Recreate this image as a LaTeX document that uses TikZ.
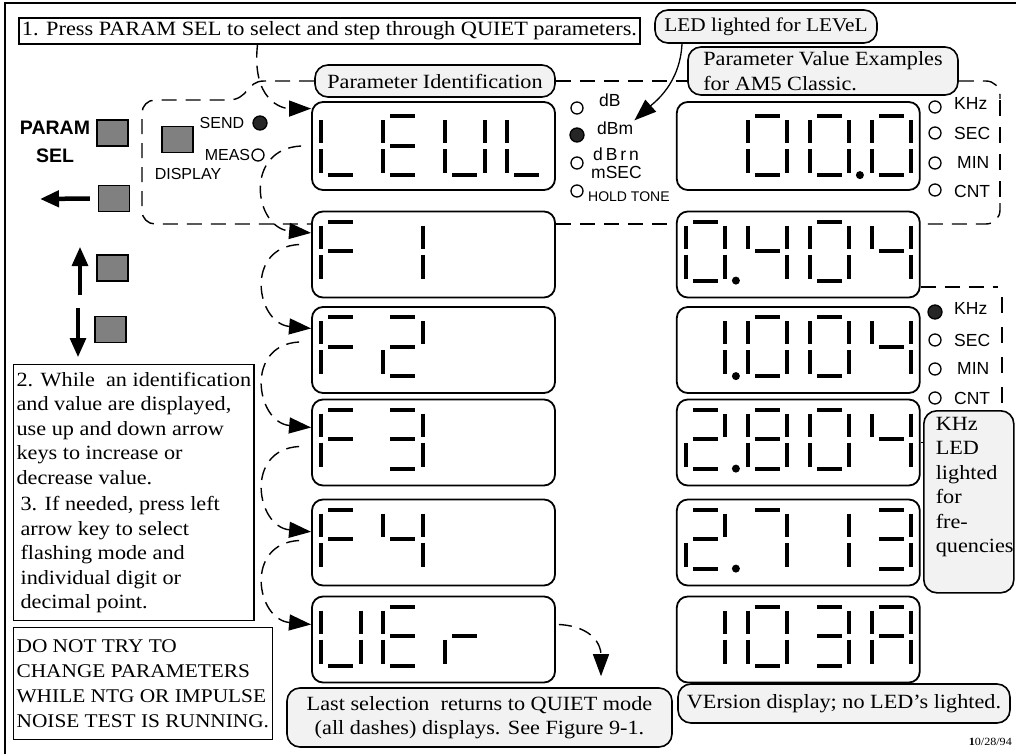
\documentclass[tikz,border=0pt]{standalone}
\usepackage{fontspec}
\setmainfont{Liberation Serif}[FakeStretch=1.1]
\setsansfont{Liberation Sans}
\usetikzlibrary{positioning,arrows.meta,calc}

% seven segment bars, origin at the left bar / top bar
\newcommand{\sega}{(7,0) -- (32,0)}
\newcommand{\segb}{(39.5,4) -- (39.5,27)}
\newcommand{\segc}{(39.5,33) -- (39.5,57)}
\newcommand{\segd}{(7,59) -- (32,59)}
\newcommand{\sege}{(0,33) -- (0,57)}
\newcommand{\segf}{(0,4) -- (0,27)}
\newcommand{\segg}{(7,29.5) -- (32,29.5)}

% characters as lists of bars
\newcommand{\dgzero}{a,b,c,d,e,f}
\newcommand{\dgone}{b,c}
\newcommand{\dgtwo}{a,b,g,e,d}
\newcommand{\dgthree}{a,b,g,c,d}
\newcommand{\dgfour}{f,g,b,c}
\newcommand{\dgseven}{a,b,c}
\newcommand{\dgeight}{a,b,c,d,e,f,g}
\newcommand{\dgA}{a,b,c,e,f,g}
\newcommand{\dgE}{a,f,g,e,d}
\newcommand{\dgF}{a,f,g,e}
\newcommand{\dgL}{f,e,d}
\newcommand{\dgU}{f,e,d,c,b}
\newcommand{\dgr}{e,g}

% \showdigit[top offset]{display}{cell}{bars}
\newcommand{\showdigit}[4][11]{%
  \edef\seglist{#4}%
  \begin{scope}[shift={($(#2.north west)+(10+62*#3,#1)$)}]
    \foreach \s in \seglist {\edef\segpath{\csname seg\s\endcsname}\draw[seg] \segpath;}
  \end{scope}}
\newcommand{\showpoint}[3][11]{%
  \fill ($(#2.north west)+(60+62*#3,#1+59)$) circle[radius=4pt];}

\begin{document}
\begin{tikzpicture}[x=1pt,y=-1pt,
    >={Triangle[length=22pt,width=16pt]},
    serif/.style={font=\fontsize{20.2}{24.5}\selectfont},
    plainbox/.style={draw,line width=1.2pt,serif,inner sep=3pt},
    notebox/.style={draw,line width=1.6pt,fill=black!5,rounded corners=13pt,serif,inner sep=3pt},
    display/.style={draw,line width=1.8pt,rounded corners=11pt,minimum width=243pt,minimum height=86pt,inner sep=0pt},
    seg/.style={line width=4pt},
    keybox/.style={draw,line width=1.2pt,fill=black!50,minimum width=31pt,minimum height=26pt,inner sep=0pt},
    led/.style={circle,draw,line width=1.3pt,minimum size=12pt,inner sep=0pt},
    ledon/.style={led,fill=black!85,minimum size=14pt},
    keylab/.style={font=\sffamily\fontsize{16}{17}\selectfont,inner sep=1pt},
    ledlab/.style={font=\sffamily\fontsize{17.5}{18}\selectfont,inner sep=1pt,anchor=west},
    groupline/.style={line width=1.4pt,dash pattern=on 15pt off 9pt},
    stepflow/.style={line width=1.4pt,dash pattern=on 13pt off 8pt,->},
    keyarrow/.style={-{Triangle[length=19pt,width=16pt]}}]

  \useasboundingbox (0,0) rectangle (1016,754);
  \draw[line width=2pt] (5,754) -- (5,3) -- (1016,3);

  % notes and callouts
  \node[plainbox,font=\fontsize{20.3}{24}\selectfont,minimum width=621pt,minimum height=26pt] (step1) at (329.5,31) {1. Press PARAM SEL to select and step through QUIET parameters.};
  \node[notebox,font=\fontsize{19.4}{24}\selectfont,minimum width=222pt,minimum height=33pt] (ledlevel) at (766,26.5) {LED lighted for LEVeL};
  \node[notebox,minimum width=240pt,minimum height=32pt] (pident) at (435,81) {Parameter Identification};
  \node[notebox,align=left,inner xsep=14pt,inner ysep=1pt,minimum width=270pt,minimum height=48pt] (pvalue) at (823,71) {Parameter Value Examples\\for AM5 Classic.};

  % identification displays
  \node[display,minimum height=88pt] (idlev) at (433.5,146) {};
  \node[display] (idf1) at (433.5,254.5) {};
  \node[display] (idf2) at (433.5,350) {};
  \node[display] (idf3) at (433.5,442.5) {};
  \node[display] (idf4) at (433.5,542.5) {};
  \node[display] (idver) at (433.5,639.5) {};

  % value displays
  \node[display,minimum height=88pt,right=120pt of idlev] (val100) {};
  \node[display,right=120pt of idf1] (val404) {};
  \node[display,right=120pt of idf2] (val1004) {};
  \node[display,right=120pt of idf3] (val2804) {};
  \node[display,right=120pt of idf4] (val2713) {};
  \node[display,right=120pt of idver] (valver) {};

  \showdigit[15]{idlev}{0}{\dgL}
  \showdigit[15]{idlev}{1}{\dgE}
  \showdigit[15]{idlev}{2}{\dgU}
  \showdigit[15]{idlev}{3}{\dgL}
  \showdigit{idf1}{0}{\dgF}
  \showdigit{idf1}{1}{\dgone}
  \showdigit{idf2}{0}{\dgF}
  \showdigit{idf2}{1}{\dgtwo}
  \showdigit{idf3}{0}{\dgF}
  \showdigit{idf3}{1}{\dgthree}
  \showdigit{idf4}{0}{\dgF}
  \showdigit{idf4}{1}{\dgfour}
  \showdigit{idver}{0}{\dgU}
  \showdigit{idver}{1}{\dgE}
  \showdigit{idver}{2}{\dgr}

  \showdigit[15]{val100}{1}{\dgzero}
  \showdigit[15]{val100}{2}{\dgzero}
  \showpoint[15]{val100}{2}
  \showdigit[15]{val100}{3}{\dgzero}
  \showdigit{val404}{0}{\dgzero}
  \showpoint{val404}{0}
  \showdigit{val404}{1}{\dgfour}
  \showdigit{val404}{2}{\dgzero}
  \showdigit{val404}{3}{\dgfour}
  \showdigit{val1004}{0}{\dgone}
  \showpoint{val1004}{0}
  \showdigit{val1004}{1}{\dgzero}
  \showdigit{val1004}{2}{\dgzero}
  \showdigit{val1004}{3}{\dgfour}
  \showdigit{val2804}{0}{\dgtwo}
  \showpoint{val2804}{0}
  \showdigit{val2804}{1}{\dgeight}
  \showdigit{val2804}{2}{\dgzero}
  \showdigit{val2804}{3}{\dgfour}
  \showdigit{val2713}{0}{\dgtwo}
  \showpoint{val2713}{0}
  \showdigit{val2713}{1}{\dgseven}
  \showdigit{val2713}{2}{\dgone}
  \showdigit{val2713}{3}{\dgthree}
  \showdigit{valver}{0}{\dgone}
  \showdigit{valver}{1}{\dgzero}
  \showdigit{valver}{2}{\dgthree}
  \showdigit{valver}{3}{\dgA}

  % unit LEDs beside the displays
  \node[led] (ldb) at (577,108) {};
  \node[ledon] (ldbm) at (577,135) {};
  \node[led] (ldbrn) at (577,163) {};
  \node[led] (lhold) at (577,191) {};
  \node[ledlab] (tdb) at (598,100) {dB};
  \node[ledlab] (tdbm) at (596,128) {dBm};
  \node[ledlab] (tdbrn) at (592,154) {d\,B\,r\,n};
  \node[ledlab] (tmsec) at (590,172) {mSEC};
  \node[ledlab,font=\sffamily\fontsize{14}{15}\selectfont] (thold) at (587,197) {HOLD TONE};

  \node[led] (lkhz) at (935,107) {};
  \node[led] (lsec) at (935,133) {};
  \node[led] (lmin) at (935,163) {};
  \node[led] (lcnt) at (935,190) {};
  \node[ledlab] (tkhz) at (953,103) {KHz};
  \node[ledlab] (tsec) at (953,133) {SEC};
  \node[ledlab] (tmin) at (956,162) {MIN};
  \node[ledlab] (tcnt) at (953,191) {CNT};

  \node[ledon] (lkhzb) at (935,312) {};
  \node[led] (lsecb) at (935,340) {};
  \node[led] (lminb) at (935,369) {};
  \node[led] (lcntb) at (935,398) {};
  \node[ledlab] (tkhzb) at (953,308) {KHz};
  \node[ledlab] (tsecb) at (953,340) {SEC};
  \node[ledlab] (tminb) at (956,368) {MIN};
  \node[ledlab] (tcntb) at (953,398) {CNT};

  % front panel keys
  \node[keybox] (kparam) at (112.5,133) {};
  \node[font=\sffamily\bfseries\fontsize{19.5}{28.5}\selectfont,align=center,inner sep=0pt] (tparam) at (55,142) {PARAM\\SEL};
  \node[keybox] (kdisp) at (177.5,139.5) {};
  \node[keylab] (tdisp) at (188,174) {DISPLAY};
  \node[ledon] (lsend) at (260,123) {};
  \node[keylab,left=7pt of lsend] (tsend) {SEND};
  \node[led] (lmeas) at (258,155) {};
  \node[keylab,left=0pt of lmeas] (tmeas) {MEAS};
  \node[keybox] (kleft) at (114,198.5) {};
  \node[keybox] (kup) at (112.5,268) {};
  \node[keybox] (kdown) at (110.5,329.5) {};
  \coordinate (lefttip) at (40,199);
  \coordinate (uptail) at (80,295);
  \coordinate (uptip) at (80,247);
  \coordinate (downtail) at (78,308);
  \coordinate (downtip) at (78,357);
  \draw[keyarrow,line width=4.5pt] ([xshift=-8pt]kleft.west) -- (lefttip);
  \draw[keyarrow,line width=3.2pt] (uptail) -- (uptip);
  \draw[keyarrow,line width=3.2pt] (downtail) -- (downtip);

  % instruction boxes
  \node[plainbox,font=\fontsize{20.2}{24.5}\selectfont,align=left,anchor=north west,minimum width=239pt,minimum height=256pt] (step2) at (13,364)
    {2. While\ \ an identification\\and value are displayed,\\use up and down arrow\\keys to increase or\\decrease value.\\[2pt]
     \hspace*{4pt}3. If needed, press left\\\hspace*{4pt}arrow key to select\\\hspace*{4pt}flashing mode and\\\hspace*{4pt}individual digit or\\\hspace*{4pt}decimal point.};
  \node[plainbox,font=\fontsize{19.4}{25}\selectfont,align=left,anchor=north west,minimum width=258pt,minimum height=112pt] (warn) at (13,627)
    {DO NOT TRY TO\\CHANGE PARAMETERS\\WHILE NTG OR IMPULSE\\NOISE TEST IS RUNNING.};

  \node[notebox,align=center,minimum width=385pt,minimum height=59pt] (lastnote) at (479.5,717.5) {Last selection\ \ returns to QUIET mode\\(all dashes) displays. See Figure 9-1.};
  \node[notebox,minimum width=332pt,minimum height=39pt] (vernote) at (844,703.5) {VErsion display; no LED's lighted.};
  \node[notebox,anchor=north west,minimum width=90pt,minimum height=182pt,inner sep=0pt] (khznote) at (923,410)
    {\parbox[t][170pt][t]{66pt}{KHz\\LED\\lighted\\for\\fre-\\quencies}};
  \node[font=\fontsize{11}{12}\selectfont,anchor=east,inner sep=0pt] (datestamp) at (1012,742) {\textbf{1}0/28/94};

  % dashed outlines of the two display groups
  \draw[groupline] (pident.west) -- (264,81) .. controls (246,81) and (249,100) .. (228,100)
    [rounded corners=13pt] -- (142,100) -- (142,224) -- (idf1.west |- 0,224);
  \draw[groupline] (pident.east) -- (pvalue.west |- pident.east);
  \draw[groupline,rounded corners=14pt] (pvalue.east |- pident.east) -- (1000,81) -- (1000,99);
  \draw[groupline,dash pattern=on 16pt off 11pt] (1000,100) -- (1000,200);
  \draw[groupline,rounded corners=14pt] (1000,203) -- (1000,224) -- (val404.east |- 0,224);
  \draw[groupline] (idf1.east |- 0,224) -- (val404.west |- 0,224);
  \draw[groupline] (val404.east |- 0,287) -- (998,287);
  \draw[groupline,dash pattern=on 16pt off 14pt] (1002,297) -- (1002,410);

  % step connectors
  \draw[stepflow] ([xshift=-72pt]step1.south) .. controls +(-6,55) and +(-30,0) .. (idlev.163);
  \draw[stepflow] ([xshift=-10pt]idlev.west) .. controls +(-58,3) and +(-57,-5) .. (idf1.170);
  \draw[stepflow] ([xshift=-12pt,yshift=10pt]idf1.west) .. controls +(-55,3) and +(-55,-5) .. (idf2.170);
  \draw[stepflow] ([xshift=-12pt,yshift=8pt]idf2.west) .. controls +(-55,3) and +(-55,-5) .. (idf3.173);
  \draw[stepflow] ([xshift=-12pt,yshift=-4pt]idf3.west) .. controls +(-55,3) and +(-55,-5) .. (idf4.175);
  \draw[stepflow] ([xshift=-12pt,yshift=2pt]idf4.west) .. controls +(-55,3) and +(-55,-5) .. (idver.173);
  \draw[stepflow] ([xshift=3pt,yshift=15pt]idver.east) .. controls +(35,2) and +(0,-30) .. ([xshift=121.5pt,yshift=11pt]lastnote.north);
  \draw[line width=1.3pt,->] ([xshift=-84pt]ledlevel.south) .. controls +(-2,40) and +(20,-18) .. (tdbm.north east);
  \draw[line width=1.2pt] (val2804.east) -- (khznote.west |- val2804.east);
\end{tikzpicture}
\end{document}
